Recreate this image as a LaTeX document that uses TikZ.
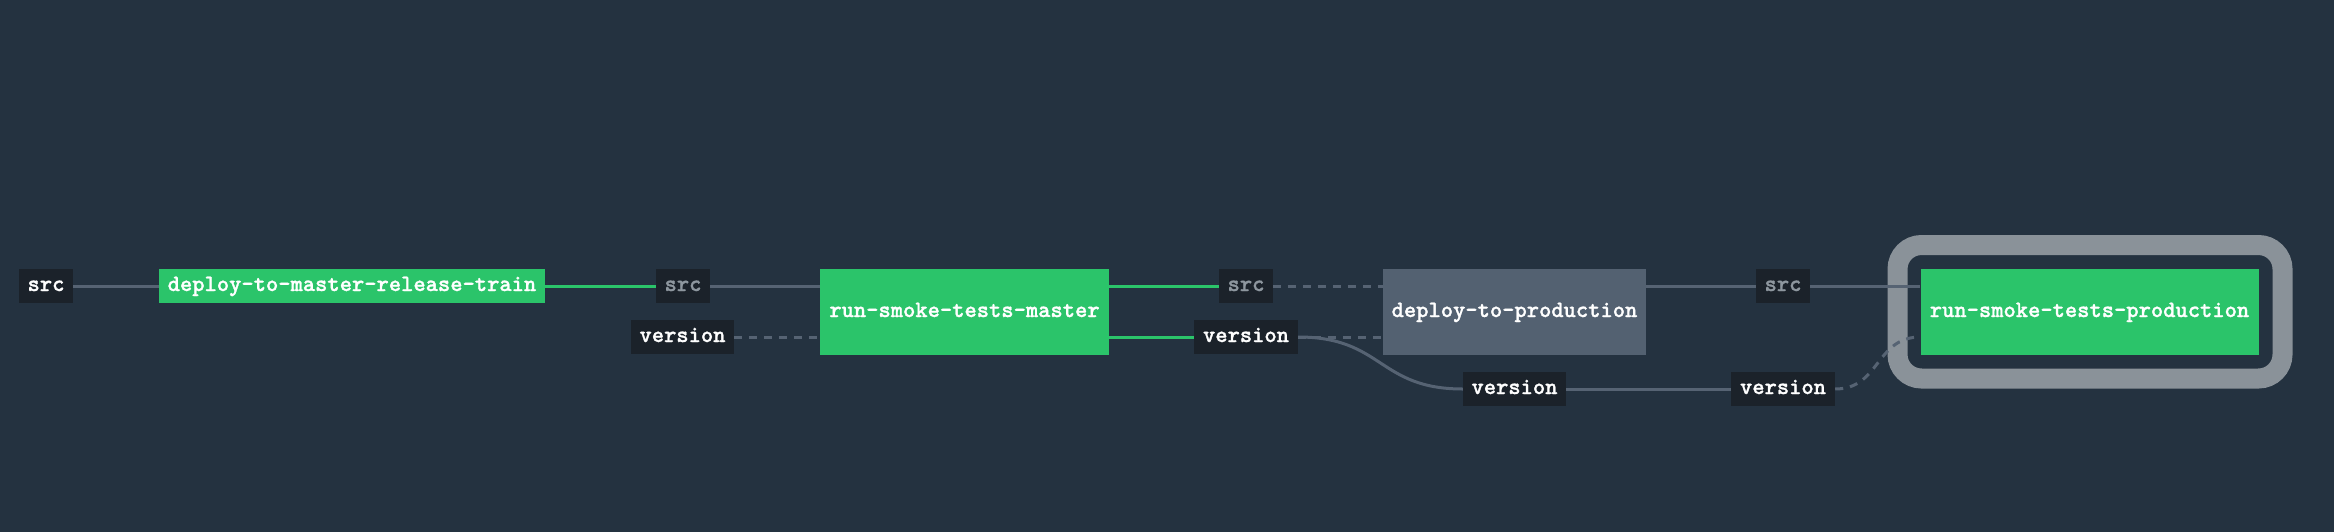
\documentclass[tikz,border=0pt]{standalone}
\usepackage{fontspec}
\newfontfamily\jobfont{lmmonolt10-bold}[Extension=.otf, FakeBold=1.2]
\definecolor{bg}{HTML}{243240}
\definecolor{okgreen}{HTML}{2BC46A}
\definecolor{pend}{HTML}{536171}
\definecolor{lbl}{HTML}{1B222A}
\definecolor{edge}{HTML}{566373}
\definecolor{dimtxt}{HTML}{8E979F}
\definecolor{ring}{HTML}{8A9299}
\tikzset{
  txt/.style={font=\jobfont\fontsize{23.4}{24}\selectfont, text height=10pt, text depth=0pt, inner sep=0pt},
  jobbox/.style={txt, fill=okgreen, text=white, minimum height=86pt},
  pendbox/.style={txt, fill=pend, text=white, minimum height=86pt},
  trainbox/.style={txt, fill=okgreen, text=white, minimum height=34pt},
  lblbox/.style={txt, fill=lbl, text=white, minimum height=34pt},
  dimbox/.style={lblbox, text=dimtxt},
  gedge/.style={draw=edge, line width=3pt},
  okedge/.style={draw=okgreen, line width=3pt},
  dedge/.style={draw=edge, line width=3pt, dash pattern=on 8pt off 7pt},
}
\begin{document}
\begin{tikzpicture}[x=1pt,y=-1pt]
\useasboundingbox (0,0) rectangle (2334,531);
\fill[bg] (-10,-10) rectangle (2344,541);
% ring around current job
\draw[ring, line width=20pt, rounded corners=24pt] (1897.5,245) rectangle (2282.5,378.5);
% nodes
\node[lblbox, minimum width=54pt] (src1) at (46,286) {src};
\node[trainbox, minimum width=386pt] (dmrt) at (352,286) {deploy-to-master-release-train};
\node[dimbox, minimum width=54pt] (src2) at (683,286) {src};
\node[lblbox, minimum width=103pt] (ver1) at (682.5,337) {version};
\node[jobbox, minimum width=289pt] (rstm) at (964.5,312) {run-smoke-tests-master};
\node[dimbox, minimum width=54pt] (src3) at (1246,286) {src};
\node[lblbox, minimum width=104pt] (ver2) at (1246,337) {version};
\node[pendbox, minimum width=263pt] (dtp) at (1514.5,312) {deploy-to-production};
\node[lblbox, minimum width=103pt] (ver3) at (1514.5,389) {version};
\node[dimbox, minimum width=54pt] (src4) at (1783,286) {src};
\node[lblbox, minimum width=104pt] (ver4) at (1783,389) {version};
\node[jobbox, minimum width=338pt] (rstp) at (2089.5,312) {run-smoke-tests-production};
% edges
\draw[gedge] (src1.east) -- (dmrt.west);
\draw[okedge] (dmrt.east) -- (src2.west);
\draw[gedge] (src2.east) -- (src2.east -| rstm.west);
\draw[dedge] (ver1.east) -- (ver1.east -| rstm.west);
\draw[okedge] (rstm.east |- src3.west) -- (src3.west);
\draw[okedge] (rstm.east |- ver2.west) -- (ver2.west);
\draw[dedge] (src3.east) -- (src3.east -| dtp.west);
\draw[dedge] (ver2.east) -- (ver2.east -| dtp.west);
\draw[gedge] (ver2.east) .. controls +(85,0) and +(-85,0) .. (ver3.west);
\draw[gedge] (dtp.east |- src4.west) -- (src4.west);
\draw[gedge] (src4.east) -- (src4.east -| rstp.west);
\draw[gedge] (ver3.east) -- (ver4.west);
\draw[dedge] (ver4.east) .. controls +(45,0) and +(-45,0) .. (rstp.west |- ver2.east);
\end{tikzpicture}
\end{document}
